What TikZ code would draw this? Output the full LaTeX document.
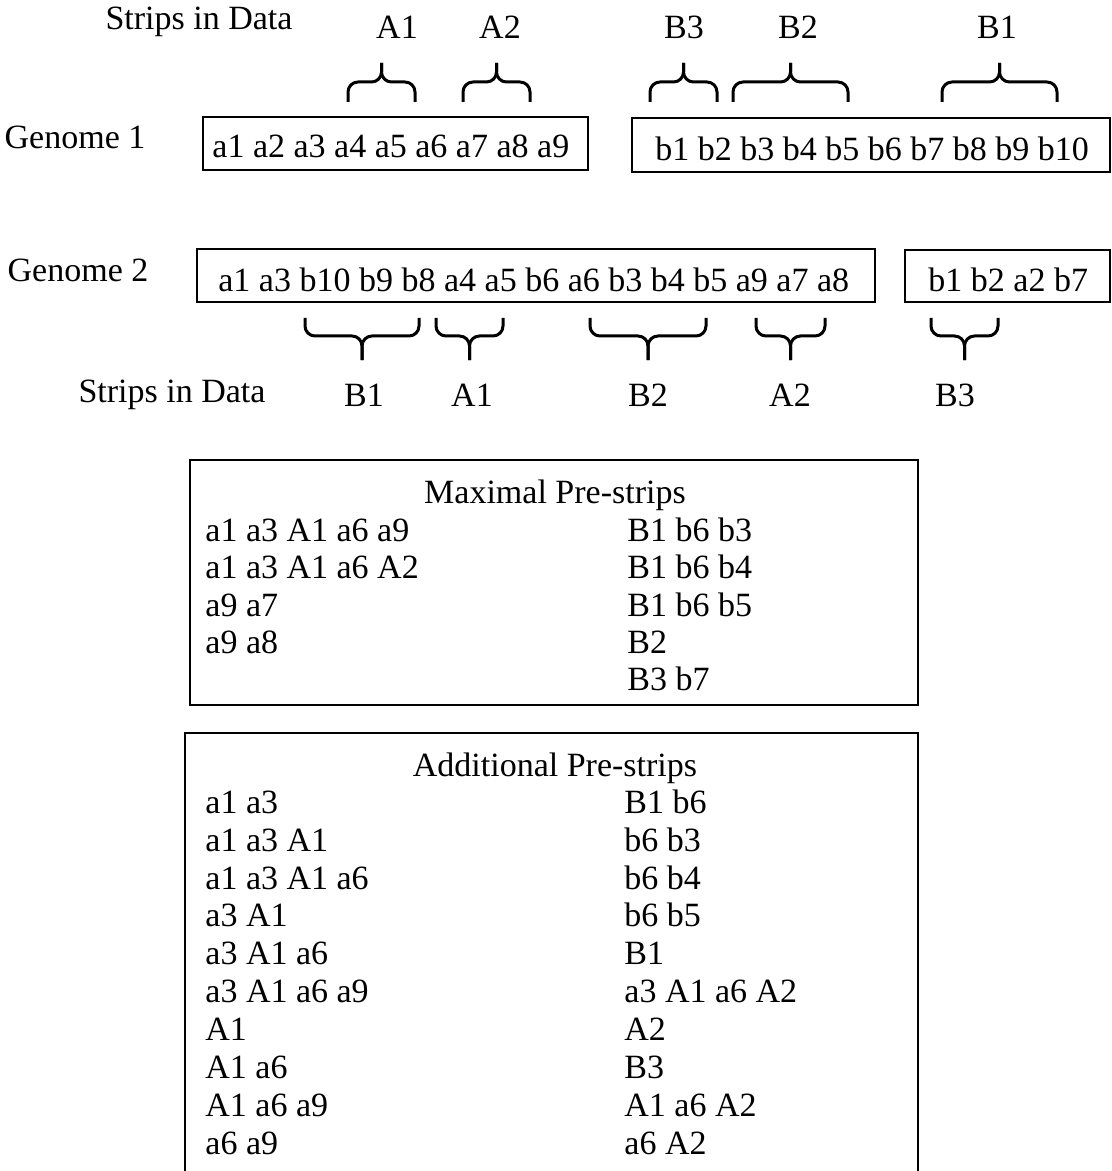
\documentclass[tikz,border=0pt]{standalone}
\usepackage{fontspec}
\setmainfont{Liberation Serif}
\usetikzlibrary{positioning}

\begin{document}
\begin{tikzpicture}[x=0.5pt, y=-0.5pt,
   every node/.style={font=\fontsize{17}{20}\selectfont, inner sep=0pt, text height=11.3pt, text depth=0pt},
   box/.style={line width=1pt},
   brace/.style={line width=1.5pt, rounded corners=5pt}]

 \useasboundingbox (0,0) rectangle (1112,1171);

 %row labels
 \node (D1) at (199,18) {Strips in Data};
 \node (G1) at (75,137) {Genome 1};
 \node (G2) at (78,270) {Genome 2};
 \node (D2) at (172,391) {Strips in Data};

 %genome 1
 \draw[box] (203,117) rectangle (588,170);
 \node[anchor=west] (U1) at (212,146) {a1 a2 a3 a4 a5 a6 a7 a8 a9};
 \draw[box] (632,118) rectangle (1110,172);
 \node[anchor=west] (U2) at (655,149) {b1 b2 b3 b4 b5 b6 b7 b8 b9 b10};

 %strips above genome 1
 \foreach \l/\r/\name/\x in {348/415/A1/397, 463/530/A2/500, 650/717/B3/684, 733/848/B2/798, 942/1057/B1/997} {
    \draw[brace] (\l,102) -- (\l,82) -- ({(\l+\r)/2},82) -- ({(\l+\r)/2},63);
    \draw[brace] (\r,102) -- (\r,82) -- ({(\l+\r)/2},82) -- ({(\l+\r)/2},63);
    \node (T\name) at (\x,27) {\name};
 }

 %genome 2
 \draw[box] (197,249) rectangle (875,302);
 \node[anchor=west] (L1) at (218,280) {a1 a3 b10 b9 b8 a4 a5 b6 a6 b3 b4 b5 a9 a7 a8};
 \draw[box] (905,250) rectangle (1110,302);
 \node[anchor=west] (L2) at (928,280) {b1 b2 a2 b7};

 %strips below genome 2
 \foreach \l/\r/\name/\x in {305/419/B1/364, 436/503/A1/472, 590/706/B2/648, 756/825/A2/790, 931/998/B3/955} {
    \draw[brace] (\l,318) -- (\l,336) -- ({(\l+\r)/2},336) -- ({(\l+\r)/2},360);
    \draw[brace] (\r,318) -- (\r,336) -- ({(\l+\r)/2},336) -- ({(\l+\r)/2},360);
    \node (S\name) at (\x,395) {\name};
 }

 %maximal pre-strips
 \draw[box] (190,460) rectangle (918,705);
 \node (M) at (555,492) {Maximal Pre-strips};
 \foreach \t [count=\i] in {a1 a3 A1 a6 a9, a1 a3 A1 a6 A2, a9 a7, a9 a8}
    \node[anchor=west] (ML\i) at (205,{493+37.3*\i}) {\t};
 \foreach \t [count=\i] in {B1 b6 b3, B1 b6 b4, B1 b6 b5, B2, B3 b7}
    \node[anchor=west] (MR\i) at (627,{493+37.3*\i}) {\t};

 %additional pre-strips (box runs off the bottom)
 \draw[box] (185,1175) -- (185,733) -- (918,733) -- (918,1175);
 \node (P) at (555,765) {Additional Pre-strips};
 \foreach \t [count=\i] in {a1 a3, a1 a3 A1, a1 a3 A1 a6, a3 A1, a3 A1 a6, a3 A1 a6 a9, A1, A1 a6, A1 a6 a9, a6 a9}
    \node[anchor=west] (PL\i) at (205,{764+37.9*\i}) {\t};
 \foreach \t [count=\i] in {B1 b6, b6 b3, b6 b4, b6 b5, B1, a3 A1 a6 A2, A2, B3, A1 a6 A2, a6 A2}
    \node[anchor=west] (PR\i) at (624,{764+37.9*\i}) {\t};

\end{tikzpicture}
\end{document}
